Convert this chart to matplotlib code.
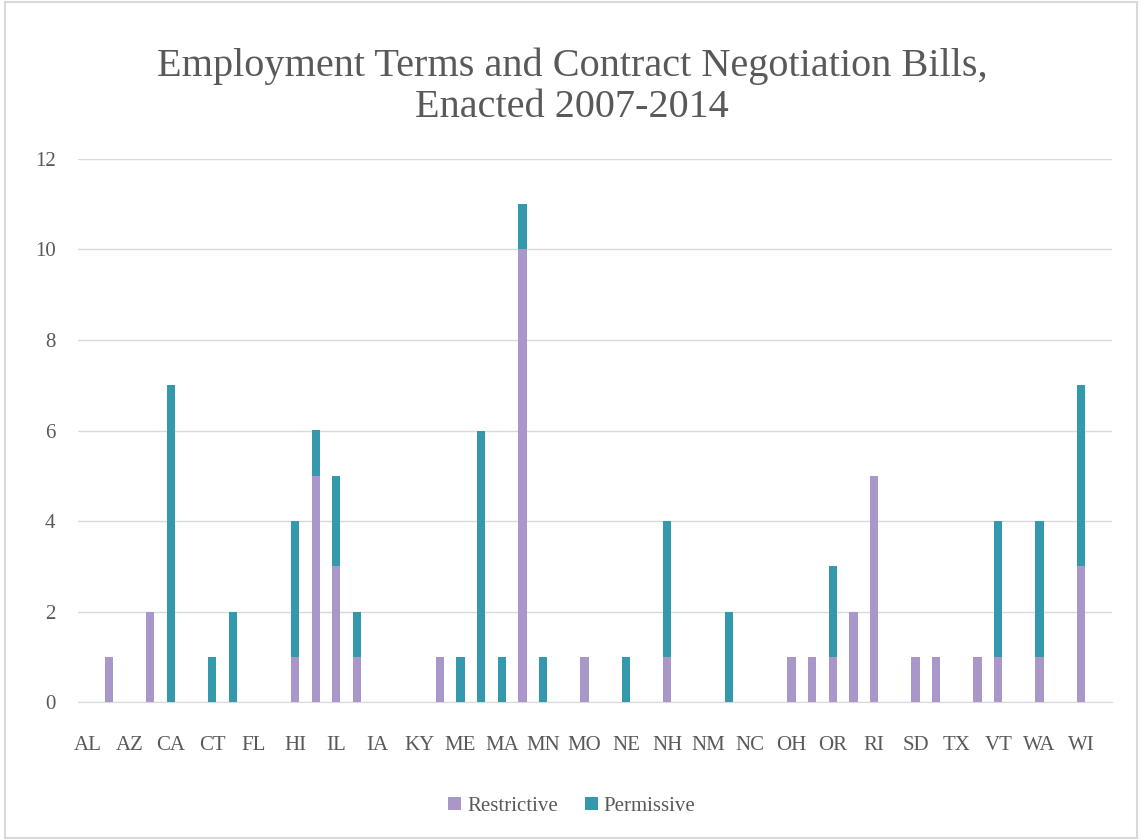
import numpy as np
import matplotlib.pyplot as plt
from matplotlib.patches import Rectangle

# states in alphabetical order of their full names
states = ["AL", "AK", "AZ", "AR", "CA", "CO", "CT", "DE", "FL", "GA",
          "HI", "ID", "IL", "IN", "IA", "KS", "KY", "LA", "ME", "MD",
          "MA", "MI", "MN", "MS", "MO", "MT", "NE", "NV", "NH", "NJ",
          "NM", "NY", "NC", "ND", "OH", "OK", "OR", "PA", "RI", "SC",
          "SD", "TN", "TX", "UT", "VT", "VA", "WA", "WV", "WI", "WY"]

restrictive = [0, 1, 0, 2, 0, 0, 0, 0, 0, 0,
               1, 5, 3, 1, 0, 0, 0, 1, 0, 0,
               0, 10, 0, 0, 1, 0, 0, 0, 1, 0,
               0, 0, 0, 0, 1, 1, 1, 2, 5, 0,
               1, 1, 0, 1, 1, 0, 1, 0, 3, 0]

permissive = [0, 0, 0, 0, 7, 0, 1, 2, 0, 0,
              3, 1, 2, 1, 0, 0, 0, 0, 1, 6,
              1, 1, 1, 0, 0, 0, 1, 0, 3, 0,
              0, 2, 0, 0, 0, 0, 2, 0, 0, 0,
              0, 0, 0, 0, 3, 0, 3, 0, 4, 0]

purple = "#a897c8"
teal = "#3599ae"
text_col = "#595959"

plt.rcParams["font.family"] = ["Liberation Serif", "DejaVu Serif"]

fig = plt.figure(figsize=(11.44, 8.4), dpi=100)
ax = fig.add_axes([0.068, 0.164, 0.904, 0.647])

x = np.arange(len(states))
w = 0.4
ax.bar(x, restrictive, w, color=purple, label="Restrictive", zorder=3)
ax.bar(x, permissive, w, bottom=restrictive, color=teal, label="Permissive", zorder=3)

ax.set_xlim(-0.5, len(states) - 0.5)
ax.set_ylim(0, 12)
ax.set_yticks(range(0, 13, 2))
ax.set_xticks(x[::2])
ax.set_xticklabels(states[::2])
ax.grid(axis="y", color="#d9d9d9", linewidth=1, zorder=0)
for s in ["top", "right", "left"]:
    ax.spines[s].set_visible(False)
ax.spines["bottom"].set_color("#d9d9d9")
ax.tick_params(length=0, colors=text_col, labelsize=15)
ax.tick_params(axis="x", pad=24)
ax.tick_params(axis="y", pad=16)

fig.text(0.5, 0.897, "Employment Terms and Contract Negotiation Bills,\nEnacted 2007-2014",
         ha="center", va="center", fontsize=29, color=text_col, linespacing=1.15)

fig.legend(loc="center", bbox_to_anchor=(0.5, 0.04), ncol=2, frameon=False,
           fontsize=15, handlelength=0.6, handleheight=0.6, columnspacing=1.3,
           handletextpad=0.3, labelcolor=text_col)

# light chart border
fig.patches.append(Rectangle((0.004, 0.002), 0.99, 0.996, transform=fig.transFigure,
                             fill=False, edgecolor="#d9d9d9", linewidth=1.5))

fig.savefig("out.png", dpi=100)
